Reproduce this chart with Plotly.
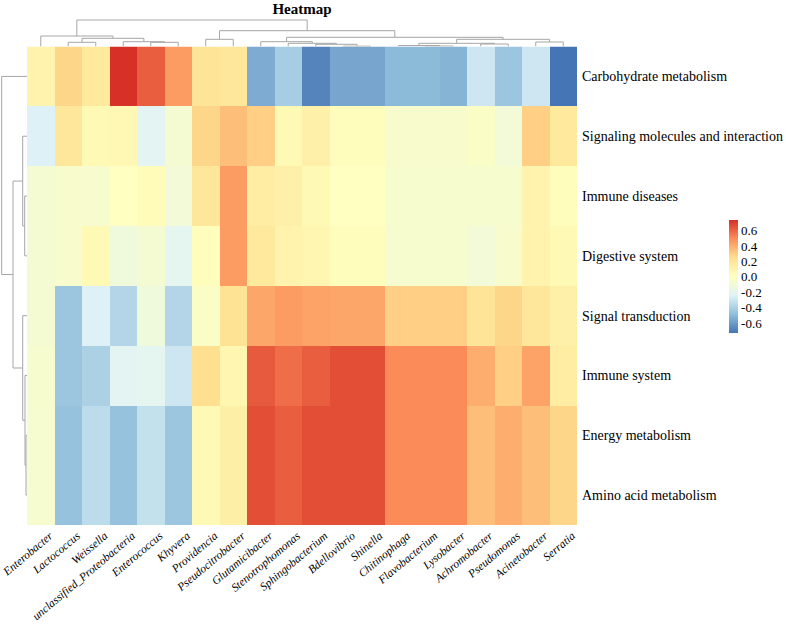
import plotly.graph_objects as go

# column (genus) order as in the clustered heatmap
genera = [
    "Enterobacter", "Lactococcus", "Weissella", "unclassified_Proteobacteria",
    "Enterococcus", "Khyvera", "Providencia", "Pseudocitrobacter",
    "Glutamicibacter", "Stenotrophomonas", "Sphingobacterium", "Bdellovibrio",
    "Shinella", "Chitinophaga", "Flavobacterium", "Lysobacter",
    "Achromobacter", "Pseudomonas", "Acinetobacter", "Serratia",
]
pathways = [
    "Carbohydrate metabolism", "Signaling molecules and interaction",
    "Immune diseases", "Digestive system", "Signal transduction",
    "Immune system", "Energy metabolism", "Amino acid metabolism",
]

carbohydrate = [0.10, 0.28, 0.18, 0.74, 0.62, 0.45, 0.22, 0.20, -0.55, -0.42,
                -0.68, -0.57, -0.57, -0.50, -0.50, -0.52, -0.30, -0.45, -0.30, -0.73]
signaling = [-0.25, 0.20, 0.05, 0.07, -0.22, -0.08, 0.28, 0.35, 0.30, 0.05,
             0.12, 0.02, 0.02, -0.05, -0.05, -0.05, -0.03, -0.10, 0.30, 0.18]
immune_dis = [-0.08, -0.05, -0.06, 0.00, 0.03, -0.10, 0.20, 0.45, 0.15, 0.12,
              0.05, 0.00, 0.00, -0.06, -0.06, -0.06, -0.06, -0.06, 0.10, 0.02]
digestive = [-0.08, -0.05, 0.05, -0.12, -0.08, -0.20, 0.02, 0.45, 0.18, 0.10,
             0.08, 0.02, 0.02, -0.06, -0.06, -0.06, -0.10, -0.05, 0.10, 0.05]
signal_trans = [-0.08, -0.45, -0.25, -0.38, -0.12, -0.38, -0.03, 0.23, 0.42, 0.45,
                0.43, 0.42, 0.42, 0.30, 0.30, 0.30, 0.22, 0.28, 0.20, 0.12]
immune_sys = [-0.06, -0.45, -0.40, -0.22, -0.20, -0.30, 0.25, 0.08, 0.63, 0.58,
              0.62, 0.66, 0.66, 0.50, 0.50, 0.50, 0.40, 0.30, 0.43, 0.15]
energy = [-0.07, -0.47, -0.35, -0.47, -0.33, -0.45, 0.05, 0.13, 0.66, 0.62,
          0.66, 0.66, 0.66, 0.50, 0.50, 0.50, 0.35, 0.40, 0.35, 0.28]
amino_acid = [-0.07, -0.47, -0.35, -0.47, -0.33, -0.45, 0.05, 0.13, 0.66, 0.62,
              0.66, 0.66, 0.66, 0.50, 0.50, 0.50, 0.35, 0.40, 0.35, 0.28]

# hierarchical merges: (child a, child b, height); ids >= n are earlier merges
col_merges = [
    (1, 2, 4.2), (4, 5, 4.2), (3, 21, 4.8), (20, 22, 8.2), (0, 23, 10.5),
    (6, 7, 7.2), (11, 12, 0.3), (10, 26, 2.2), (9, 27, 3.2), (8, 28, 4.8),
    (14, 15, 0.5), (13, 30, 1.0), (16, 17, 2.5), (31, 32, 3.2), (18, 19, 4.5),
    (33, 34, 7.2), (29, 35, 9.2), (25, 36, 15.8), (24, 37, 26.5),
]
row_merges = [
    (2, 3, 2.3), (1, 8, 4.3), (6, 7, 1.0), (5, 10, 2.0), (4, 11, 4.3),
    (9, 12, 14.0), (0, 13, 25.3),
]

colorscale = [
    [0 / 6, "#4575B4"], [1 / 6, "#91BFDB"], [2 / 6, "#E0F3F8"], [3 / 6, "#FFFFBF"],
    [4 / 6, "#FEE090"], [5 / 6, "#FC8D59"], [6 / 6, "#D73027"],
]

SERIF = "Liberation Serif, Times New Roman, serif"
LINE = "#a6a6a6"
W, H = 786, 624


def dendro_segments(merges, n):
    pos = {i: float(i) for i in range(n)}
    hgt = {i: 0.0 for i in range(n)}
    p_all, h_all = [], []
    for k, (a, b, h) in enumerate(merges):
        p_all += [pos[a], pos[a], pos[b], pos[b], None]
        h_all += [hgt[a], h, h, hgt[b], None]
        pos[n + k] = (pos[a] + pos[b]) / 2
        hgt[n + k] = h
    return p_all, h_all


z = [carbohydrate, signaling, immune_dis, digestive, signal_trans, immune_sys, energy, amino_acid]

# pixel layout
hx0, hx1 = 27, 577
hy0, hy1 = 46.5, 525
xdom = [hx0 / W, hx1 / W]
ydom = [1 - hy1 / H, 1 - hy0 / H]

fig = go.Figure()

fig.add_trace(go.Heatmap(
    z=z, x=list(range(len(genera))), y=list(range(len(pathways))),
    colorscale=colorscale,
    xgap=0, ygap=0,
    hoverinfo="skip",
    colorbar=dict(
        x=729 / W, xanchor="left", y=1 - 276.5 / H, yanchor="middle",
        len=113, lenmode="pixels", thickness=9, outlinewidth=0,
        tickvals=[-0.6, -0.4, -0.2, 0.0, 0.2, 0.4, 0.6],
        ticktext=["-0.6", "-0.4", "-0.2", "0.0", "0.2", "0.4", "0.6"],
        tickfont=dict(family=SERIF, size=13, color="black"),
        ticks="", xpad=0, ypad=0,
    ),
))

# top dendrogram
cx, ch = dendro_segments(col_merges, len(genera))
fig.add_trace(go.Scatter(x=cx, y=ch, mode="lines", line=dict(color=LINE, width=1),
                         xaxis="x2", yaxis="y2", hoverinfo="skip", showlegend=False))

# left dendrogram
ry, rh = dendro_segments(row_merges, len(pathways))
fig.add_trace(go.Scatter(x=rh, y=ry, mode="lines", line=dict(color=LINE, width=1),
                         xaxis="x3", yaxis="y3", hoverinfo="skip", showlegend=False))

xr = [-0.5, len(genera) - 0.5]
yr = [len(pathways) - 0.5, -0.5]

fig.update_layout(
    width=W, height=H,
    margin=dict(l=0, r=0, t=0, b=0, autoexpand=False),
    paper_bgcolor="white", plot_bgcolor="white",
    title=dict(text="<b>Heatmap</b>", x=(hx0 + hx1) / 2 / W, xanchor="center",
               y=1 - 9 / H, yanchor="middle", automargin=False,
               font=dict(family=SERIF, size=15, color="black")),
    xaxis=dict(domain=xdom, range=xr, tickvals=list(range(len(genera))),
               ticktext=["<i>%s</i>" % g for g in genera], tickangle=-40,
               tickfont=dict(family=SERIF, size=11.5, color="black"),
               showgrid=False, zeroline=False, showline=False, ticks="",
               ticklabelshift=9, ticklabelstandoff=1,
               automargin=False, ticklabeloverflow="allow"),
    yaxis=dict(domain=ydom, range=yr, tickvals=list(range(len(pathways))),
               ticktext=pathways, side="right",
               tickfont=dict(family=SERIF, size=14, color="black"),
               showgrid=False, zeroline=False, showline=False, ticks="",
               ticklabelstandoff=4, automargin=False, ticklabeloverflow="allow"),
    xaxis2=dict(domain=xdom, range=xr, anchor="y2", visible=False),
    yaxis2=dict(domain=[1 - hy0 / H, 1 - 18 / H], range=[0, 28.5], anchor="x2", visible=False),
    xaxis3=dict(domain=[0, hx0 / W], range=[hx0, 0], anchor="y3", visible=False),
    yaxis3=dict(domain=ydom, range=yr, anchor="x3", visible=False),
)

# drop the default 8px page margin so the figure sits at the window's corner
fig.write_html("out.html", config={"displayModeBar": False},
               post_script="document.body.style.margin = '0';")
